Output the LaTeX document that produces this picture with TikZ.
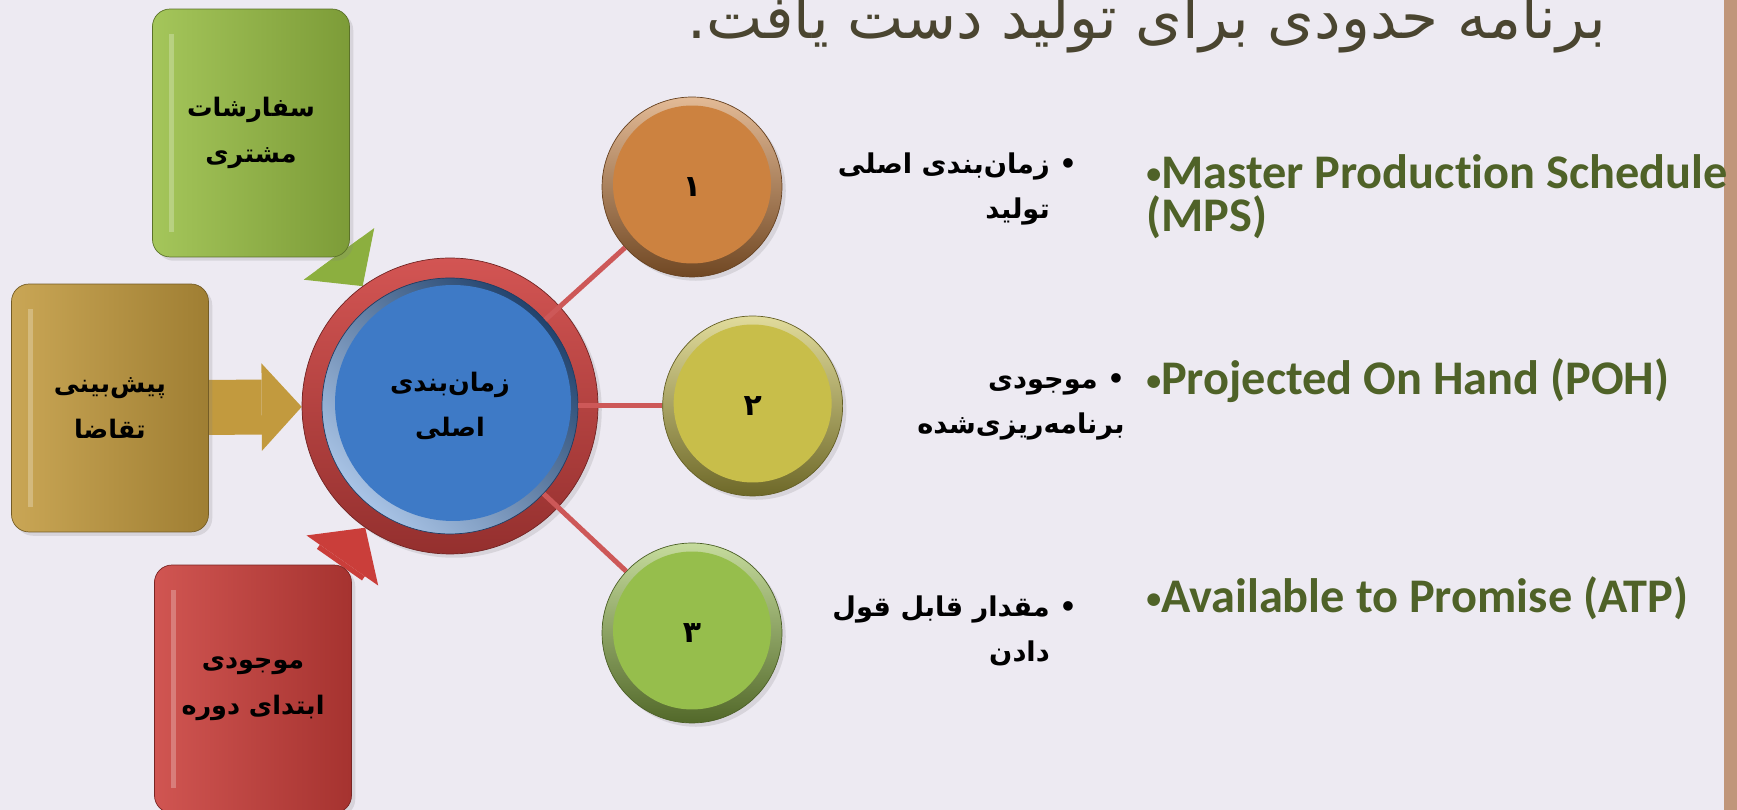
\documentclass[tikz,border=0pt]{standalone}
\usepackage{fontspec}
\usetikzlibrary{arrows.meta,positioning,shadows}
\TeXXeTstate=1
\newfontfamily\farsi[Script=Arabic]{DejaVu Sans}
\newfontfamily\latin[Ligatures=NoCommon]{Carlito}
\newcommand{\rtl}[1]{\beginR#1\endR}
\newcommand{\ind}{\hphantom{• }}
\newcommand{\enbul}{{\fontsize{17}{17}\selectfont\raisebox{2.5pt}{•}}}
\newcommand{\labfont}{\farsi\bfseries\fontsize{14.5}{26}\selectfont}
\newcommand{\itemfont}{\farsi\bfseries\fontsize{15.5}{26}\selectfont}
\newcommand{\numfont}{\farsi\bfseries\fontsize{17}{20}\selectfont}
\definecolor{slidebg}{RGB}{237,234,242}
\definecolor{sidebar}{RGB}{192,150,122}
\definecolor{titletxt}{RGB}{74,69,48}
\definecolor{olivetxt}{RGB}{79,98,40}
\definecolor{leafgreen}{RGB}{152,190,68}
\definecolor{mustard}{RGB}{194,154,62}
\definecolor{brick}{RGB}{202,62,58}
\definecolor{hubred}{RGB}{206,66,64}
\definecolor{hubblue}{RGB}{62,122,198}
\definecolor{ballorange}{RGB}{204,130,64}
\definecolor{ballyellow}{RGB}{200,190,74}
\definecolor{ballgreen}{RGB}{150,190,76}
\definecolor{linkred}{RGB}{205,88,88}
\pgfdeclarelayer{back}
\pgfdeclarelayer{mid}
\pgfsetlayers{back,mid,main}

\begin{document}
\begin{tikzpicture}[x=0.02cm, y=0.02cm,
  box/.style={draw=#1!60!black, rounded corners=0.35cm, minimum width=3.94cm, minimum height=4.96cm, align=center, font=\labfont, left color=#1!88!white, right color=#1!82!black, drop shadow={opacity=0.2},
    path picture={\fill[white, opacity=0.25, sharp corners] ([xshift=0.32cm, yshift=-0.5cm]path picture bounding box.north west) rectangle ([xshift=0.42cm, yshift=0.5cm]path picture bounding box.south west);}},
  hub/.style={circle, minimum size=5.92cm, draw=hubred!55!black, top color=hubred!90!white, bottom color=hubred!72!black, drop shadow={opacity=0.2}},
  core/.style={circle, minimum size=5.12cm, align=center, font=\labfont, draw=hubblue!50!black, top color=hubblue!55!black, bottom color=hubblue!45!white, shading angle=-45,
    path picture={\fill[hubblue] ([xshift=0.06cm, yshift=0.06cm]path picture bounding box.center) circle (2.36cm);}},
  ball/.style={circle, minimum size=3.6cm, font=\numfont, draw=#1!50!black, top color=#1!55!white, bottom color=#1!55!black, drop shadow={opacity=0.2},
    path picture={\fill[#1] ([yshift=0.05cm]path picture bounding box.center) circle (1.58cm);}},
  link/.style={draw=linkred, line width=0.1cm},
  feed/.style={draw=#1, line width=1.1cm, -{Triangle[length=0.8cm, width=1.75cm, line width=0pt]}},
  fatxt/.style={font=\itemfont, align=right, inner sep=0pt},
  entxt/.style={font=\latin\bfseries\fontsize{27.5}{25}\selectfont, text=olivetxt, align=left, inner sep=0pt}
]
\useasboundingbox (0,0) rectangle (1737,810);
\begin{pgfonlayer}{back}
\fill[slidebg] (0,0) rectangle (1737,810);
\fill[sidebar] (1724,0) rectangle (1737,810);
\end{pgfonlayer}

% title line, cut by the top edge
\node[font=\farsi\fontsize{34}{40}\selectfont, text=titletxt, anchor=base east] (head) at (1612,771) {\rtl{برنامه حدودی برای تولید دست یافت.}};

% inputs
\node[box=leafgreen] (orders) at (251,677) {\rtl{سفارشات}\\\rtl{مشتری}};
\node[box=mustard] (forecast) at (110,402) {\rtl{پیش^^^^200cبینی}\\\rtl{تقاضا}};
\node[box=brick] (stock) at (253,121) {\rtl{موجودی}\\\rtl{ابتدای دوره}};

% master schedule
\node[hub] (mps) at (450,404) {};
\node[core] (core) at (mps) {\rtl{زمان^^^^200cبندی}\\\rtl{اصلی}};

% outputs
\node[ball=ballorange] (one) at (692,623) {\rtl{۱}};
\node[ball=ballyellow, right=1.28cm of mps] (two) {\rtl{۲}};
\node[ball=ballgreen] (three) at (692,177) {\rtl{۳}};
\foreach \n in {one,two,three}
  \draw[link] (core) -- (\n);

\begin{pgfonlayer}{mid}
\draw[feed=leafgreen!92!black] (orders) -- (mps);
\draw[feed=mustard] (forecast) -- (mps);
\draw[feed=brick] (stock) -- (mps);
\end{pgfonlayer}

% terms (base = last line)
\node[fatxt, anchor=base east] (fa1) at (1077,591) {\rtl{• زمان^^^^200cبندی اصلی}\\\rtl{\ind تولید}};
\node[fatxt, anchor=base east] (fa2) at (1125,376) {\rtl{• موجودی}\\\rtl{برنامه^^^^200cریزی^^^^200cشده}};
\node[fatxt, anchor=base east] (fa3) at (1077,148) {\rtl{• مقدار قابل قول}\\\rtl{\ind دادن}};
\node[entxt, anchor=base west] (en1) at (1146,578) {\enbul Master Production Schedule\\(MPS)};
\node[entxt, anchor=base west] (en2) at (1146,415) {\enbul Projected On Hand (POH)};
\node[entxt, anchor=base west] (en3) at (1146,197) {\enbul Available to Promise (ATP)};
\end{tikzpicture}
\end{document}
